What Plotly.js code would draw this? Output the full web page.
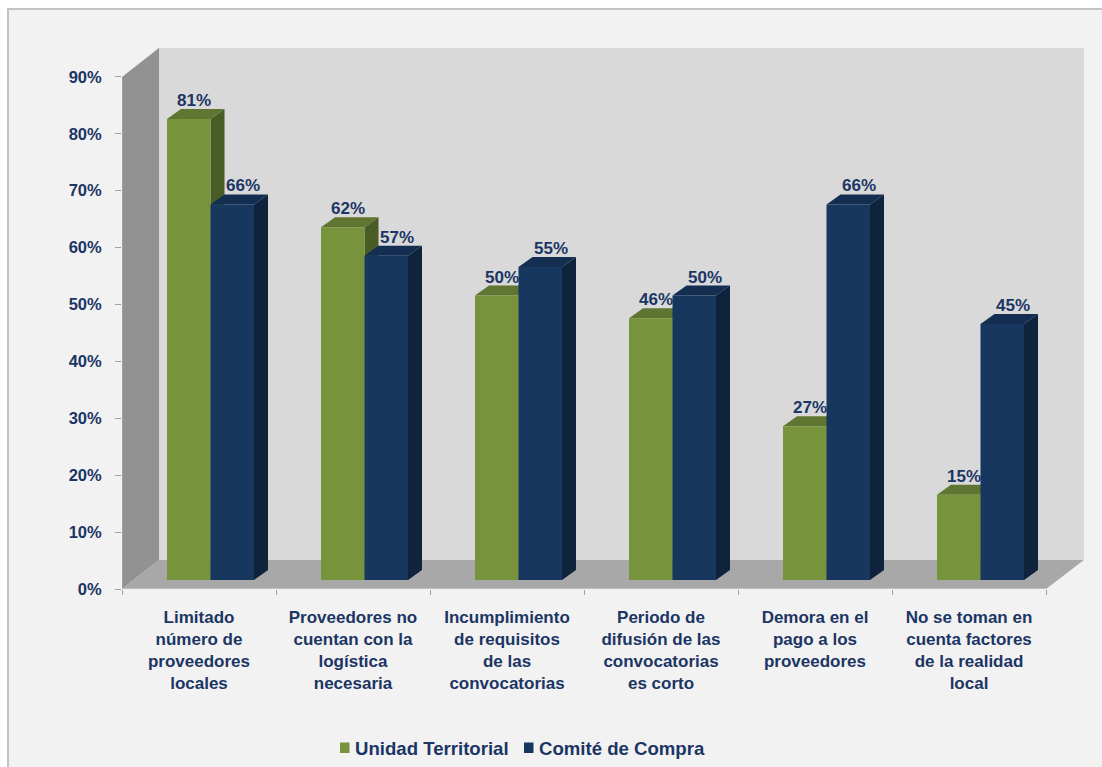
<!DOCTYPE html>
<html>
<head>
<meta charset="utf-8">
<script src="https://cdn.plot.ly/plotly-3.0.1.min.js"></script>
<style>
  html, body { margin: 0; padding: 0; background: #ffffff; }
  #chart { width: 1102px; height: 767px; }
</style>
</head>
<body>
<div id="chart"></div>
<script>
// ---- data ----
const categories = [
  "Limitado<br>número de<br>proveedores<br>locales",
  "Proveedores no<br>cuentan con la<br>logística<br>necesaria",
  "Incumplimiento<br>de requisitos<br>de las<br>convocatorias",
  "Periodo de<br>difusión de las<br>convocatorias<br>es corto",
  "Demora en el<br>pago a los<br>proveedores",
  "No se toman en<br>cuenta factores<br>de la realidad<br>local"
];
const unidadTerritorial = [81, 62, 50, 46, 27, 15];
const comiteCompra = [66, 57, 55, 50, 66, 45];
const seriesNames = ["Unidad Territorial", "Comité de Compra"];
const yTickVals = [0, 10, 20, 30, 40, 50, 60, 70, 80, 90];
const yTickLabels = ["0%", "10%", "20%", "30%", "40%", "50%", "60%", "70%", "80%", "90%"];

// ---- geometry (pseudo-3D) ----
const W_PX = 1102, H_PX = 767;
const M = { l: 122, r: 18, t: 48, b: 178, autoexpand: false };
const plotW = W_PX - M.l - M.r, plotH = H_PX - M.t - M.b;
const xMin = -0.5, pxPerCat = 154;
const xMax = xMin + plotW / pxPerCat;
const pxPerPct = 5.69;
const yMax = plotH / pxPerPct;
const px2x = p => p / pxPerCat, px2y = p => p / pxPerPct;
const pxToPaperX = p => (p - M.l) / plotW;
const pxToPaperY = p => ((H_PX - M.b) - p) / plotH;

const DX = px2x(37), DY = px2y(29);        // wall depth
const SX = px2x(11.5), SY = px2y(9);       // bar plane offset
const BX = px2x(14), BY = px2y(10);        // bar depth
const BW = px2x(43.5);                     // bar width
const nCat = categories.length;

const colors = {
  green: { front: "#77933C", top: "#5F7531", side: "#4A5C26" },
  blue:  { front: "#17375E", top: "#132E50", side: "#0F233C" }
};
const navy = "#1B3564";
const FONT = "Liberation Sans, Arial, sans-serif";

const idx = categories.map((_, i) => i);
const xBar = idx.map(i => i + SX);

const traces = [
  { type: "bar", name: seriesNames[0], x: xBar, y: unidadTerritorial, base: SY,
    width: BW, offset: -BW, marker: { color: colors.green.front, line: { width: 0 } },
    hoverinfo: "skip", showlegend: false },
  { type: "bar", name: seriesNames[1], x: xBar, y: comiteCompra, base: SY,
    width: BW, offset: 0, marker: { color: colors.blue.front, line: { width: 0 } },
    hoverinfo: "skip", showlegend: false }
];

const shapes = [];
// outer frame
shapes.push({ type: "rect", xref: "paper", yref: "paper", layer: "below",
  x0: pxToPaperX(8), x1: pxToPaperX(1110), y0: pxToPaperY(790), y1: pxToPaperY(9),
  fillcolor: "#F2F2F2", line: { color: "#C3C3C3", width: 2 } });
// back wall
shapes.push({ type: "rect", xref: "x", yref: "y", layer: "below",
  x0: xMin + DX, x1: xMax, y0: DY, y1: yMax,
  fillcolor: "#D9D9D9", line: { width: 0 } });
// side wall
shapes.push({ type: "path", xref: "x", yref: "y", layer: "below",
  path: `M ${xMin},0 L ${xMin},90 L ${xMin + DX},${90 + DY} L ${xMin + DX},${DY} Z`,
  fillcolor: "#929292", line: { width: 0 } });
// floor
shapes.push({ type: "path", xref: "x", yref: "y", layer: "below",
  path: `M ${xMin},0 L ${xMin + DX},${DY} L ${xMax},${DY} L ${xMin + nCat},0 Z`,
  fillcolor: "#A8A8A8", line: { width: 0 } });
// front edges
shapes.push({ type: "line", xref: "x", yref: "y", layer: "below",
  x0: xMin, x1: xMin + nCat, y0: 0, y1: 0, line: { color: "#BDBDBD", width: 2 } });
shapes.push({ type: "line", xref: "x", yref: "y", layer: "below",
  x0: xMin, x1: xMin, y0: 0, y1: 90, line: { color: "#A3A3A3", width: 1.5 } });

function barFaces(vals, leftOff, c) {
  const sides = [], tops = [];
  vals.forEach((v, i) => {
    const xl = xBar[i] + leftOff, xr = xl + BW, t = SY + v, b = SY;
    sides.push({ type: "path", xref: "x", yref: "y", layer: "below",
      path: `M ${xr},${b} L ${xr},${t} L ${xr + BX},${t + BY} L ${xr + BX},${b + BY} Z`,
      fillcolor: c.side, line: { width: 0 } });
    tops.push({ type: "path", xref: "x", yref: "y", layer: "below",
      path: `M ${xl},${t} L ${xl + BX},${t + BY} L ${xr + BX},${t + BY} L ${xr},${t} Z`,
      fillcolor: c.top, line: { width: 0 } });
  });
  return sides.concat(tops);
}
shapes.push(...barFaces(unidadTerritorial, -BW, colors.green));
shapes.push(...barFaces(comiteCompra, 0, colors.blue));

const annotations = [];
function addLabels(vals, leftOff, shiftPx) {
  vals.forEach((v, i) => {
    annotations.push({ x: xBar[i] + leftOff + BW / 2 + px2x(shiftPx), y: SY + v + BY,
      xref: "x", yref: "y", text: v + "%", showarrow: false,
      xanchor: "center", yanchor: "bottom", yshift: -3,
      font: { family: FONT, size: 17, color: navy, weight: "bold" } });
  });
}
addLabels(unidadTerritorial, -BW, 5);
addLabels(comiteCompra, 0, 11);

// legend (drawn manually for tight marker/text spacing)
const legendItems = [
  { name: seriesNames[0], color: colors.green.front, markerPx: 340, textPx: 353 },
  { name: seriesNames[1], color: colors.blue.front, markerPx: 524, textPx: 537 }
];
legendItems.forEach(it => {
  shapes.push({ type: "rect", xref: "paper", yref: "paper", layer: "above",
    x0: pxToPaperX(it.markerPx), x1: pxToPaperX(it.markerPx + 9.5),
    y0: pxToPaperY(753), y1: pxToPaperY(742.5),
    fillcolor: it.color, line: { width: 0 } });
  annotations.push({ xref: "paper", yref: "paper", x: pxToPaperX(it.textPx), y: pxToPaperY(748),
    xanchor: "left", yanchor: "middle", showarrow: false, text: it.name,
    font: { family: FONT, size: 18.6, color: navy, weight: "bold" } });
});

const layout = {
  width: W_PX, height: H_PX,
  margin: M,
  paper_bgcolor: "#FFFFFF",
  plot_bgcolor: "rgba(0,0,0,0)",
  barmode: "overlay",
  showlegend: false,
  xaxis: { range: [xMin, xMax], showgrid: false, zeroline: false, showline: false,
    automargin: false,
    tickmode: "array", tickvals: idx, ticktext: categories, ticks: "",
    ticklabelstandoff: 16,
    tickfont: { family: FONT, size: 17, color: navy, weight: "bold" },
    minor: { tickmode: "array", tickvals: idx.concat([nCat]).map(i => i - 0.5),
      ticks: "outside", ticklen: 5, tickcolor: "#A0A0A0", tickwidth: 1 },
    fixedrange: true },
  yaxis: { range: [0, yMax], showgrid: false, zeroline: false, showline: false,
    automargin: false,
    tickmode: "array", tickvals: yTickVals, ticktext: yTickLabels,
    ticks: "outside", ticklen: 6, tickcolor: "#A0A0A0",
    ticklabelstandoff: 10,
    tickfont: { family: FONT, size: 16.5, color: navy, weight: "bold" },
    fixedrange: true },
  shapes: shapes,
  annotations: annotations
};

Plotly.newPlot("chart", traces, layout, { displayModeBar: false, staticPlot: true });
</script>
</body>
</html>
